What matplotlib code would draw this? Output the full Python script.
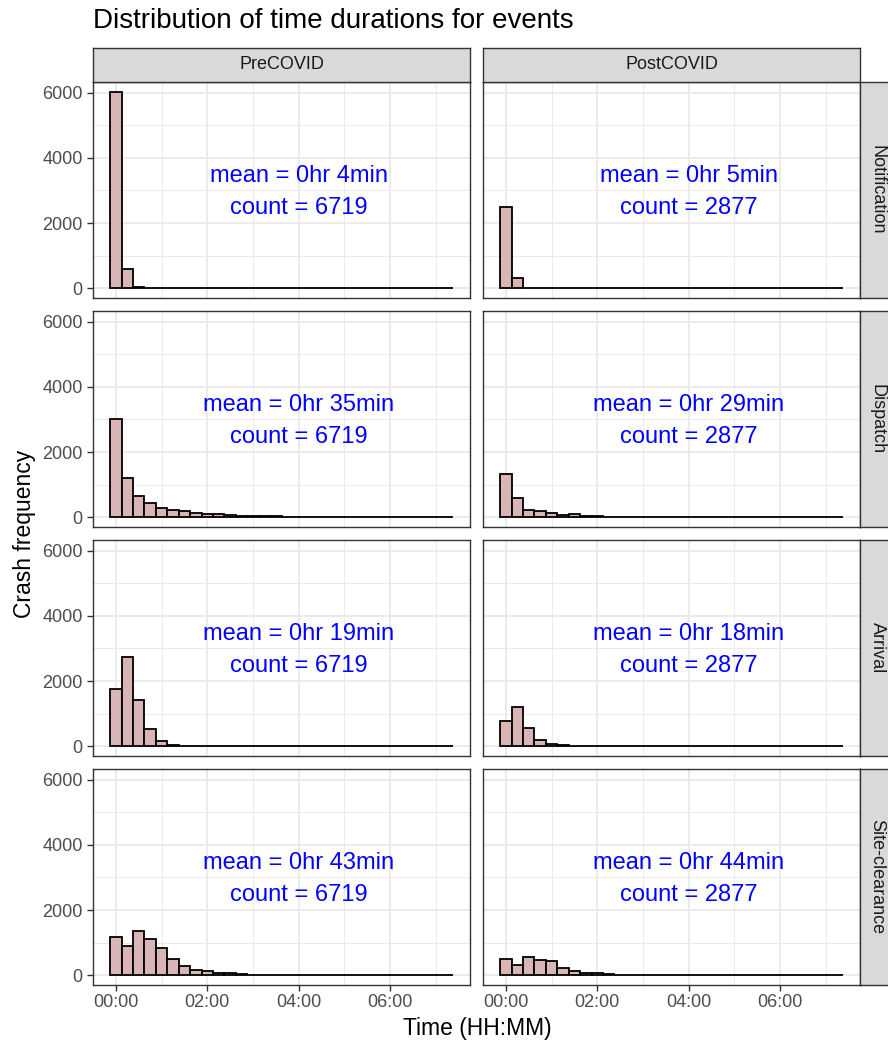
import matplotlib
matplotlib.use("Agg")
import matplotlib.pyplot as plt
import numpy as np

plt.rcParams['font.family'] = ['Liberation Sans', 'DejaVu Sans']

# ---- data -------------------------------------------------------------
periods = ["PreCOVID", "PostCOVID"]
events = ["Notification", "Dispatch", "Arrival", "Site-clearance"]

bin_width_hr = 0.25          # 15-minute bins, first bin centred on 00:00
n_bins = 30

notification_pre = [6030, 590, 55, 18, 8, 5, 3, 2, 2, 1, 1, 1, 1, 0, 1,
                    0, 0, 1, 0, 0, 0, 0, 0, 0, 0, 0, 0, 0, 0, 0]
notification_post = [2480, 324, 20, 12, 9, 7, 5, 4, 3, 3, 2, 2, 1, 1, 1,
                     1, 1, 0, 0, 1, 0, 0, 0, 0, 0, 0, 0, 0, 0, 0]
dispatch_pre = [3010, 1200, 650, 440, 300, 220, 185, 130, 111, 100, 70, 50,
                40, 35, 30, 25, 20, 18, 15, 12, 10, 10, 8, 6, 5, 4, 4, 3, 2, 2]
dispatch_post = [1337, 598, 243, 192, 142, 71, 101, 40, 30, 25, 20, 15, 12,
                 10, 8, 6, 5, 4, 4, 3, 3, 2, 2, 1, 1, 1, 1, 0, 0, 0]
arrival_pre = [1770, 2730, 1410, 530, 180, 55, 25, 10, 5, 2, 1, 1, 0, 0, 0,
               0, 0, 0, 0, 0, 0, 0, 0, 0, 0, 0, 0, 0, 0, 0]
arrival_post = [780, 1200, 570, 200, 80, 30, 10, 4, 2, 1, 0, 0, 0, 0, 0,
                0, 0, 0, 0, 0, 0, 0, 0, 0, 0, 0, 0, 0, 0, 0]
clearance_pre = [1185, 910, 1370, 1105, 830, 495, 300, 160, 130, 90, 60, 35,
                 20, 10, 6, 4, 3, 2, 1, 1, 1, 1, 0, 0, 0, 0, 0, 0, 0, 0]
clearance_post = [495, 320, 555, 475, 445, 222, 140, 90, 60, 35, 18, 10, 5,
                  3, 2, 1, 1, 0, 0, 0, 0, 0, 0, 0, 0, 0, 0, 0, 0, 0]

mean_pre = ["0hr 4min", "0hr 35min", "0hr 19min", "0hr 43min"]
mean_post = ["0hr 5min", "0hr 29min", "0hr 18min", "0hr 44min"]
count_pre = 6719
count_post = 2877

x_ticks = [0, 2, 4, 6]
x_tick_labels = ["00:00", "02:00", "04:00", "06:00"]
y_ticks = [0, 2000, 4000, 6000]

counts = {
    ("Notification", "PreCOVID"): notification_pre,
    ("Notification", "PostCOVID"): notification_post,
    ("Dispatch", "PreCOVID"): dispatch_pre,
    ("Dispatch", "PostCOVID"): dispatch_post,
    ("Arrival", "PreCOVID"): arrival_pre,
    ("Arrival", "PostCOVID"): arrival_post,
    ("Site-clearance", "PreCOVID"): clearance_pre,
    ("Site-clearance", "PostCOVID"): clearance_post,
}
means = {"PreCOVID": mean_pre, "PostCOVID": mean_post}
totals = {"PreCOVID": count_pre, "PostCOVID": count_post}

# ---- styling ----------------------------------------------------------
W, H = 888, 1044
fig = plt.figure(figsize=(W / 100, H / 100), dpi=100)
fig.patch.set_facecolor("white")

FILL = "#D9B5B5"
GRID = "#EBEBEB"
DARK = "#333333"
STRIP = "#D9D9D9"

col_left = [93, 483]
panel_w = 377
row_top0 = 81.7
row_pitch = 229
panel_h = 216.6
strip_h = 34


def px_axes(left, top, width, height, **kw):
    return fig.add_axes([left / W, 1 - (top + height) / H, width / W, height / H], **kw)


centers = np.arange(n_bins) * bin_width_hr
all_max = max(max(v) for v in counts.values())
x_lo = centers[0] - bin_width_hr / 2
x_hi = centers[-1] + bin_width_hr / 2
x_pad = 0.05 * (x_hi - x_lo)

for r, ev in enumerate(events):
    top = row_top0 + r * row_pitch
    for c, per in enumerate(periods):
        ax = px_axes(col_left[c], top, panel_w, panel_h)
        ax.set_axisbelow(True)
        ax.bar(centers, counts[(ev, per)], width=bin_width_hr, align="center",
               color=FILL, edgecolor="black", linewidth=1.3, zorder=2)
        ax.set_xlim(x_lo - x_pad, x_hi + x_pad)
        ax.set_ylim(-0.05 * all_max, 1.05 * all_max)

        ax.set_xticks(x_ticks)
        ax.set_xticks([1, 3, 5, 7], minor=True)
        ax.set_yticks(y_ticks)
        ax.set_yticks([1000, 3000, 5000], minor=True)
        ax.grid(which="major", color=GRID, linewidth=1.4)
        ax.grid(which="minor", color=GRID, linewidth=0.7)
        ax.tick_params(which="minor", length=0)
        ax.tick_params(which="major", length=4, width=1.0, color=DARK,
                       labelcolor="#4D4D4D", labelsize=13)
        ax.tick_params(axis="x", pad=2.5)
        ax.tick_params(axis="y", pad=3.5)
        if r == len(events) - 1:
            ax.set_xticklabels(x_tick_labels)
        else:
            ax.tick_params(axis="x", which="major", length=0, labelbottom=False)
        if c == 0:
            ax.set_yticklabels([str(v) for v in y_ticks])
        else:
            ax.tick_params(axis="y", which="major", length=0, labelleft=False)
        for sp in ax.spines.values():
            sp.set_color(DARK)
            sp.set_linewidth(1.0)

        ax.text(4, 3450, f"mean = {means[per][r]}", ha="center", va="center",
                color="#0000FF", fontsize=17)
        ax.text(4, 2450, f"count = {totals[per]}", ha="center", va="center",
                color="#0000FF", fontsize=17)

        # column strips
        if r == 0:
            sax = px_axes(col_left[c], top - strip_h, panel_w, strip_h)
            sax.set_facecolor(STRIP)
            sax.set_xticks([]); sax.set_yticks([])
            for sp in sax.spines.values():
                sp.set_color(DARK); sp.set_linewidth(1.0)
            sax.text(0.5, 0.5, per, ha="center", va="center", fontsize=13,
                     color="#1A1A1A", transform=sax.transAxes)
        # row strips
        if c == len(periods) - 1:
            rax = px_axes(col_left[c] + panel_w, top, strip_h, panel_h)
            rax.set_facecolor(STRIP)
            rax.set_xticks([]); rax.set_yticks([])
            for sp in rax.spines.values():
                sp.set_color(DARK); sp.set_linewidth(1.0)
            rax.text(0.5, 0.5, ev, ha="center", va="center", fontsize=13,
                     color="#1A1A1A", rotation=-90, transform=rax.transAxes)

# titles and axis labels
fig.text(93 / W, 1 - 20.5 / H, "Distribution of time durations for events",
         ha="left", va="center", fontsize=20, color="black")
fig.text(477 / W, 1 - 1029 / H, "Time (HH:MM)", ha="center", va="center",
         fontsize=16.5, color="black")
fig.text(25 / W, 1 - 533.5 / H, "Crash frequency", ha="center", va="center",
         rotation=90, fontsize=16.5, color="black")

fig.savefig("out.png", dpi=100, facecolor="white")
